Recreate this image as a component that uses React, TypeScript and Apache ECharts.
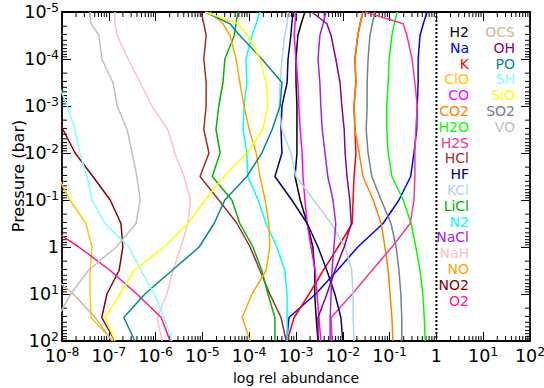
import React, { useEffect, useRef } from 'react';
import * as echarts from 'echarts';

// log10(pressure / bar) levels shared by all profiles
const logP = [-5, -4.75, -4.5, -4, -3.5, -3, -2.5, -2, -1.5, -1, -0.5, 0, 0.5, 1, 1.5, 2];

// log10(relative abundance) per species at the logP levels (null = off the left edge)
const H2 = [-2.81, -2.89, -2.96, -3.0, -3.0, -2.98, -2.98, -2.98, -3.02, -2.91, -2.76, -2.64, -2.6, -2.6, -2.57, -2.53];
const Na = [-0.2, -0.28, -0.35, -0.39, -0.39, -0.41, -0.42, -0.48, -0.55, -0.8, -1.14, -1.68, -2.12, -2.58, -3.15, -3.2];
const K = [-1.57, -1.63, -1.68, -1.74, -1.72, -1.76, -1.74, -1.72, -1.76, -1.78, -1.8, -2.1, -2.42, -2.72, -3.04, -3.19];
const ClO = [null, null, null, null, null, null, null, -8.36, -8.09, -7.83, -7.49, -7.36, -7.4, -7.4, -7.38, -6.91];
const CO = [-3.0, -3.02, -3.04, -3.0, -2.96, -2.94, -2.91, -2.87, -2.85, -2.81, -2.76, -2.68, -2.59, -2.55, -2.51, -2.47];
const CO2 = [-1.57, -1.63, -1.68, -1.74, -1.72, -1.76, -1.74, -1.65, -1.57, -1.35, -1.18, -1.1, -1.03, -0.99, -0.95, -0.93];
const H2O = [-0.84, -0.9, -0.95, -1.01, -1.03, -1.06, -1.06, -1.03, -0.95, -0.71, -0.54, -0.44, -0.35, -0.29, -0.26, -0.24];
const H2S = [-1.53, -0.71, -0.63, -0.52, -0.46, -0.41, -0.44, -0.46, -0.46, -0.48, -0.56, -0.95, -1.38, -1.8, -2.25, -2.23];
const HCl = [-5.03, -4.97, -4.92, -4.97, -4.92, -4.92, -4.97, -4.86, -5.05, -4.65, -4.26, -3.98, -3.77, -3.56, -3.32, -3.21];
const HF = [-3.06, -3.09, -3.11, -3.17, -3.19, -3.3, -3.32, -3.3, -3.45, -3.09, -2.76, -2.53, -2.34, -2.17, -2.04, -2.0];
const KCl = [-3.17, -3.19, -3.24, -3.3, -3.34, -3.36, -3.3, -3.11, -3.0, -2.62, -2.25, -1.95, -1.81, -1.78, -1.78, -1.76];
const LiCl = [-4.24, -4.28, -4.32, -4.52, -4.56, -4.65, -4.71, -4.62, -4.79, -4.37, -4.2, -3.92, -3.73, -3.6, -3.45, -3.45];
const N2 = [-3.77, -3.85, -3.94, -4.07, -4.05, -4.11, -4.13, -4.05, -4.03, -3.81, -3.64, -3.41, -3.24, -3.19, -3.19, -3.19];
const NaCl = [-2.36, -2.42, -2.49, -2.53, -2.49, -2.47, -2.44, -2.38, -2.32, -2.21, -2.15, -2.19, -2.23, -2.25, -2.27, -2.27];
const NaH = [-6.87, -6.87, -6.82, -6.59, -6.33, -6.08, -5.74, -5.59, -5.39, -5.26, -5.31, -5.46, -5.63, -5.76, -5.97, -5.86];
const NO = [-4.84, -4.56, -4.41, -4.28, -4.2, -4.11, -4.0, -3.85, -3.77, -3.66, -3.58, -3.56, -3.64, -3.94, -4.15, -3.98];
const NO2 = [null, null, null, null, null, -8.2, -7.98, -7.72, -7.34, -6.97, -6.74, -6.7, -6.78, -7.04, -7.15, -6.87];
const O2 = [null, null, null, null, null, null, null, null, null, -9.2, -8.4, -7.64, -6.97, -6.4, -5.88, -5.69];
const OCS = [null, null, null, null, null, null, null, null, null, null, null, null, -8.36, -7.76, -7.29, -6.93];
const OH = [-2.66, -2.34, -2.25, -2.15, -2.06, -2.02, -1.97, -1.95, -1.91, -1.85, -1.82, -1.97, -2.17, -2.34, -2.53, -2.53];
const PO = [-4.94, -4.41, -4.2, -3.73, -3.3, -3.34, -3.51, -3.73, -4.05, -4.52, -4.75, -5.07, -5.65, -6.23, -6.68, -6.44];
const SH = [null, null, null, null, -8.09, -7.89, -7.72, -7.62, -7.47, -7.36, -7.08, -6.57, -6.31, -6.03, -5.82, -5.65];
const SiO = [-4.94, -4.24, -4.03, -3.77, -3.64, -3.6, -3.71, -4.05, -4.54, -4.94, -5.31, -5.82, -6.46, -6.76, -7.08, -6.87];
const SO2 = [-1.31, -1.37, -1.42, -1.46, -1.48, -1.48, -1.5, -1.46, -1.38, -1.18, -0.97, -0.86, -0.8, -0.76, -0.74, -0.74];
const VO = [-7.4, -7.38, -7.21, -7.15, -6.91, -6.82, -6.61, -6.5, -6.4, -6.33, -6.42, -6.84, -7.44, -7.81, -8.1, -8.4];

const names = ['H2', 'Na', 'K', 'ClO', 'CO', 'CO2', 'H2O', 'H2S', 'HCl', 'HF', 'KCl', 'LiCl', 'N2', 'NaCl', 'NaH', 'NO', 'NO2', 'O2', 'OCS', 'OH', 'PO', 'SH', 'SiO', 'SO2', 'VO'];
const profiles = [H2, Na, K, ClO, CO, CO2, H2O, H2S, HCl, HF, KCl, LiCl, N2, NaCl, NaH, NO, NO2, O2, OCS, OH, PO, SH, SiO, SO2, VO];
const colors = ['#000000', '#0000ff', '#ff0000', '#ffc800', '#ff00ff', '#ff7f00', '#00ff00', '#ff3399', '#a52a2a', '#000080', '#add8e6', '#00b400', '#00ffff', '#a020f0', '#ffc0cb', '#ffa500', '#8b0000', '#ff1493', '#d2b48c', '#8b008b', '#008b8b', '#80ffff', '#ffff00', '#708090', '#c0c0c0'];

// axis ranges (log10 units)
const xRange = [-8, 2];
const yRange = [-5, 2];
const unityX = 0; // abundance = 1 marker
const legendSplit = 18;

const FONT = 'DejaVu Sans';

export default function App() {
  const ref = useRef<HTMLDivElement>(null);
  useEffect(() => {
    if (!ref.current) return;
    const chart = echarts.init(ref.current, null, { renderer: 'svg' });

    const minorX: number[][] = [];
    for (let n = xRange[0]; n < xRange[1]; n++) for (let k = 2; k <= 9; k++) minorX.push([n + Math.log10(k), 0]);
    const minorY: number[][] = [];
    for (let n = yRange[0]; n < yRange[1]; n++) for (let k = 2; k <= 9; k++) minorY.push([0, n + Math.log10(k)]);

    const fmt = (v: number) => {
      const e = Math.round(v);
      return e === 0 ? '{b|1}' : `{b|10}{s|${e}}`;
    };
    const rich = {
      b: { fontSize: 17.5, lineHeight: 22, fontFamily: FONT, color: '#000' },
      s: { fontSize: 12.5, lineHeight: 11, verticalAlign: 'top', fontFamily: FONT, color: '#000' },
    };
    const axisLine = { onZero: false, lineStyle: { color: '#000', width: 1.8 } };
    const axisTick = { inside: true, length: 9, lineStyle: { color: '#000', width: 1 } };
    const xBase = { type: 'value', min: xRange[0], max: xRange[1], interval: 1, splitLine: { show: false }, axisLine, axisTick };
    const yBase = { type: 'value', min: yRange[0], max: yRange[1], interval: 1, inverse: true, splitLine: { show: false }, axisLine, axisTick };

    const lineSeries = profiles.map((vals, i) => ({
      type: 'line',
      name: names[i],
      data: vals.map((v, j) => (v == null ? null : [v, logP[j]])).filter((d) => d !== null),
      symbol: 'none',
      showSymbol: false,
      clip: true,
      silent: true,
      lineStyle: { color: colors[i], width: 1.5 },
      itemStyle: { color: colors[i] },
    }));

    const tickStyle = { stroke: '#000', lineWidth: 1 };

    const legendTexts = names.map((n, i) => {
      const col = i < legendSplit ? 0 : 1;
      const row = col === 0 ? i : i - legendSplit;
      return {
        type: 'text',
        x: col === 0 ? 469 : 515,
        y: 32 + row * 15.8,
        silent: true,
        style: { text: n, fill: colors[i], font: `14px "${FONT}"`, textAlign: 'right', textVerticalAlign: 'middle' },
      };
    });

    chart.setOption({
      animation: false,
      backgroundColor: '#fff',
      grid: { left: 62, top: 12, right: 14, bottom: 47, containLabel: false, outerBoundsMode: 'none' },
      xAxis: [
        { ...xBase, position: 'bottom', axisLabel: { formatter: fmt, rich, margin: 4, hideOverlap: false, showMinLabel: true, showMaxLabel: true } },
        { ...xBase, position: 'top', axisLabel: { show: false } },
      ],
      yAxis: [
        { ...yBase, position: 'left', axisLabel: { formatter: fmt, rich, margin: 3, hideOverlap: false, showMinLabel: true, showMaxLabel: true } },
        { ...yBase, position: 'right', axisLabel: { show: false } },
      ],
      series: [
        ...lineSeries,
        {
          type: 'line',
          name: 'unity',
          data: [[unityX, yRange[0]], [unityX, yRange[1]]],
          symbol: 'none',
          silent: true,
          lineStyle: { color: '#000', width: 2, type: [2, 2] },
        },
        {
          type: 'custom',
          silent: true,
          data: minorX,
          renderItem: (params: any, api: any) => {
            const cs = params.coordSys;
            const px = api.coord([api.value(0), 0])[0];
            const b = cs.y + cs.height;
            const t = cs.y;
            return {
              type: 'group',
              children: [
                { type: 'line', shape: { x1: px, y1: b, x2: px, y2: b - 5 }, style: tickStyle },
                { type: 'line', shape: { x1: px, y1: t, x2: px, y2: t + 5 }, style: tickStyle },
              ],
            };
          },
        },
        {
          type: 'custom',
          silent: true,
          data: minorY,
          renderItem: (params: any, api: any) => {
            const cs = params.coordSys;
            const py = api.coord([0, api.value(1)])[1];
            const l = cs.x;
            const r = cs.x + cs.width;
            return {
              type: 'group',
              children: [
                { type: 'line', shape: { x1: l, y1: py, x2: l + 5, y2: py }, style: tickStyle },
                { type: 'line', shape: { x1: r, y1: py, x2: r - 5, y2: py }, style: tickStyle },
              ],
            };
          },
        },
      ],
      graphic: [
        ...legendTexts,
        {
          type: 'text',
          x: 296,
          y: 378,
          silent: true,
          style: { text: 'log rel abundance', fill: '#000', font: `14px "${FONT}"`, textAlign: 'center', textVerticalAlign: 'middle' },
        },
        {
          type: 'text',
          x: 18,
          y: 176,
          rotation: Math.PI / 2,
          silent: true,
          style: { text: 'Pressure (bar)', fill: '#000', font: `16px "${FONT}"`, textAlign: 'center', textVerticalAlign: 'middle' },
        },
      ],
    });
    return () => chart.dispose();
  }, []);

  return <div ref={ref} style={{ position: 'fixed', left: 0, top: 0, width: 544, height: 388, background: '#fff' }} />;
}
